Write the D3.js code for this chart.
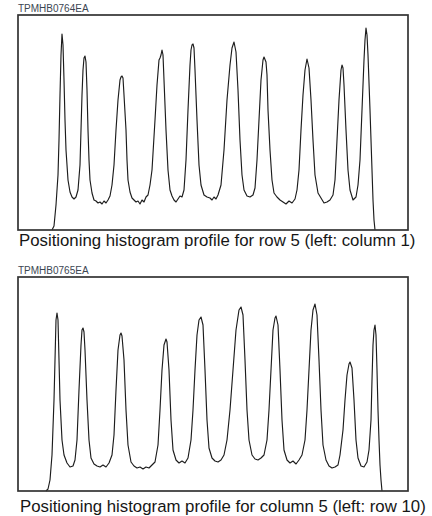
<!DOCTYPE html>
<html lang="en">
<head>
    <meta charset="UTF-8">
    <title>Positioning histogram profiles</title>
    <script src="https://d3js.org/d3.v7.min.js"></script>
    <style>
        body { margin: 0; background: #fff; }
        svg { display: block; font-family: "Liberation Sans", Arial, sans-serif; }
        .frame { fill: none; stroke: #333; stroke-width: 1.7; }
        .profile { fill: none; stroke: #1c1c1c; stroke-width: 1.15; stroke-linejoin: round; }
        .tag { font-size: 10px; fill: #3b4652; }
        .caption { font-size: 16.8px; fill: #161616; }
    </style>
</head>
<body>
<svg id="chart"></svg>
<script>
    // row 5 profile (left: column 1)
    const row5Channel = [34,36,38,40,41,42,43,44,45,46,47,48,50,52,54,56,58,60,62,63,64,65,66,67,68,69,70,71,72,74,76,78,80,82,84,86,88,90,92,94,96,98,100,102,103,104,105,106,108,109,110,112,114,116,118,120,122,124,126,128,130,132,134,137,139,141,142,143,144,145,146,148,150,152,154,156,158,160,162,164,166,168,170,172,173,174,175,176,177,179,181,183,186,189,192,194,196,198,200,203,206,209,212,214,216,218,220,222,224,226,229,232,235,237,239,241,243,245,246,248,249,250,252,254,256,259,262,265,268,271,274,277,279,281,283,285,287,289,291,293,295,297,300,303,306,309,312,315,317,319,321,323,324,325,326,328,330,332,335,338,340,342,344,346,347,348,349,350,352,354,355,356,357];
    const row5Counts = [0,20,125,275,450,675,875,980,925,750,550,400,250,190,165,155,165,200,325,500,675,800,860,870,840,700,500,350,250,185,150,145,135,140,130,145,135,150,170,225,325,500,650,750,765,770,760,675,500,350,250,190,160,150,140,145,130,150,140,165,175,225,300,550,725,850,860,875,900,875,750,500,300,200,170,150,140,155,170,165,200,350,600,825,900,925,930,910,800,550,325,225,175,165,160,150,165,155,175,225,400,650,825,910,940,890,700,450,275,200,170,165,175,210,350,550,750,850,865,840,775,600,400,250,185,165,150,140,130,145,135,155,200,300,500,675,800,855,810,650,450,275,185,160,135,140,150,175,250,450,650,800,825,810,725,500,300,200,150,165,225,350,600,850,950,1010,975,875,600,300,150,50,0];

    // column 5 profile (left: row 10)
    const col5Channel = [28,30,32,34,36,37,38,39,40,41,42,44,46,49,52,55,57,59,61,63,64,65,66,67,69,71,73,76,79,82,85,88,91,94,96,98,100,102,103,104,106,108,110,113,116,119,122,125,128,131,134,137,140,142,144,146,148,149,151,153,155,158,161,164,167,170,173,175,177,179,181,183,185,187,189,191,194,197,200,203,206,209,212,215,218,221,223,225,227,229,231,234,237,240,243,246,249,251,253,255,257,258,260,262,264,266,269,272,275,278,281,284,287,289,291,293,295,297,299,301,303,305,308,311,314,317,320,322,325,327,329,331,332,334,336,338,340,343,346,349,351,353,354,355,356,357,358,359,360,361,362,363,364];
    const col5Counts = [0,10,55,180,455,655,855,890,855,655,455,255,180,140,120,125,155,255,505,730,805,815,795,705,455,255,165,135,125,120,130,120,140,180,280,505,705,780,790,775,655,405,230,145,125,115,120,110,120,115,130,145,230,405,605,730,760,745,605,355,205,155,140,150,140,165,255,405,605,780,855,870,830,605,355,215,165,150,145,155,180,255,405,605,805,905,920,880,655,405,255,180,160,155,165,180,255,405,605,805,865,875,830,605,355,205,155,140,150,135,155,180,255,405,605,805,905,935,880,655,405,230,155,125,115,120,130,180,305,455,580,635,645,615,455,255,165,125,120,145,205,355,555,730,805,830,780,605,405,255,130,55,0];

    const panelTags = ['TPMHB0764EA', 'TPMHB0765EA'];
    const panelCaptions = [
        'Positioning histogram profile for row 5 (left: column 1)',
        'Positioning histogram profile for column 5 (left: row 10)'
    ];

    const W = 432, H = 516;
    const svg = d3.select('#chart').attr('width', W).attr('height', H);

    const panels = [
        { channel: row5Channel, counts: row5Counts, top: 15, bottom: 230, tagY: 12, capY: 246, capX: 19 },
        { channel: col5Channel, counts: col5Counts, top: 277, bottom: 491, tagY: 274, capY: 512, capX: 20 }
    ];

    const left = 18, right = 408;

    panels.forEach((p, i) => {
        const x = d3.scaleLinear().domain([0, 390]).range([left, right]);
        const y = d3.scaleLinear().domain([0, 1075]).range([p.bottom, p.bottom - 215]);

        const g = svg.append('g');

        g.append('text')
            .attr('class', 'tag')
            .attr('x', left)
            .attr('y', p.tagY)
            .text(panelTags[i]);

        const pts = p.channel.map((c, j) => [c, p.counts[j]]);
        const line = d3.line()
            .x(d => x(d[0]))
            .y(d => y(d[1]));

        g.append('path')
            .datum(pts)
            .attr('class', 'profile')
            .attr('d', line);

        g.append('rect')
            .attr('class', 'frame')
            .attr('x', left)
            .attr('y', p.top)
            .attr('width', right - left)
            .attr('height', p.bottom - p.top);

        g.append('text')
            .attr('class', 'caption')
            .attr('x', p.capX)
            .attr('y', p.capY)
            .text(panelCaptions[i]);
    });
</script>
</body>
</html>
